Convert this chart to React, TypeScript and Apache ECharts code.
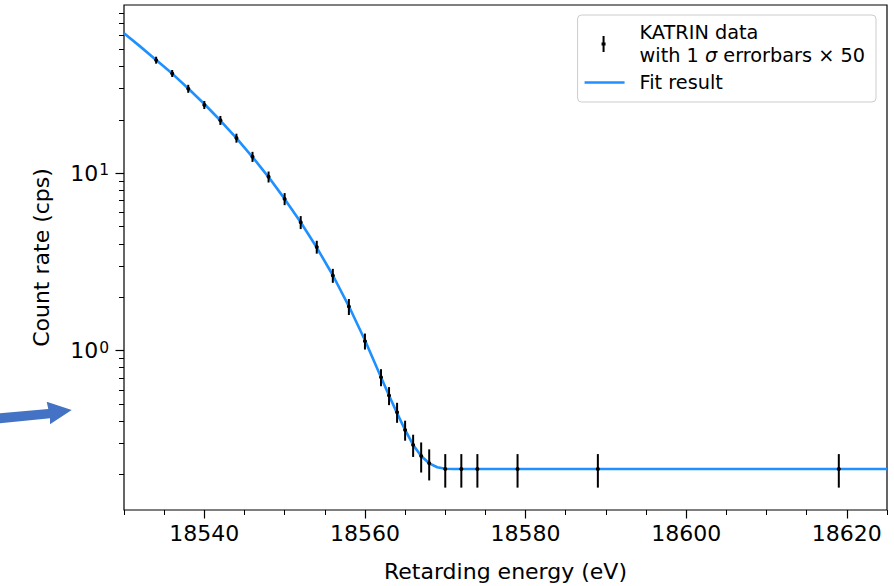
import React, { useEffect, useRef } from 'react';
import * as echarts from 'echarts';

const energy = [18534, 18536, 18538, 18540, 18542, 18544, 18546, 18548, 18550, 18552, 18554, 18556, 18558, 18560, 18562, 18563, 18564, 18565, 18566, 18567, 18568, 18570, 18572, 18574, 18579, 18589, 18619];
const rate = [43.5, 36.6, 30.0, 24.3, 19.9, 15.8, 12.4, 9.55, 7.17, 5.29, 3.84, 2.65, 1.77, 1.13, 0.707, 0.557, 0.449, 0.356, 0.293, 0.254, 0.231, 0.2145, 0.2145, 0.2145, 0.2145, 0.2145, 0.2145];
const errorX50 = [1.97, 1.66, 1.56, 1.26, 1.16, 0.92, 0.81, 0.68, 0.56, 0.445, 0.32, 0.24, 0.184, 0.117, 0.078, 0.065, 0.058, 0.046, 0.042, 0.049, 0.046, 0.046, 0.046, 0.046, 0.046, 0.046, 0.046];

// Fit curve
const fitEnergy = [18530, 18532, 18534, 18536, 18538, 18540, 18542, 18544, 18546, 18548, 18550, 18552, 18554, 18556, 18558, 18560, 18562, 18563, 18564, 18565, 18566, 18567, 18568, 18569, 18570, 18571, 18625];
const fitRate = [61.6, 52.0, 43.6, 36.5, 30.1, 24.6, 19.85, 15.77, 12.35, 9.52, 7.17, 5.29, 3.81, 2.66, 1.777, 1.142, 0.707, 0.558, 0.4435, 0.3565, 0.2933, 0.2541, 0.2311, 0.2195, 0.2155, 0.2145, 0.2145];

// Axis ticks
const xMajorTicks = [18540, 18560, 18580, 18600, 18620];
const xMinorTicks = [18530, 18535, 18545, 18550, 18555, 18565, 18570, 18575, 18585, 18590, 18595, 18605, 18610, 18615, 18625];
const yMajorTicks = [1, 10];
const yMinorTicks = [0.2, 0.3, 0.4, 0.5, 0.6, 0.7, 0.8, 0.9, 2, 3, 4, 5, 6, 7, 8, 9, 20, 30, 40, 50, 60, 70, 80];

const X_MIN = 18530;
const X_MAX = 18625;
const Y_MIN = 0.126;
const Y_MAX = 89;

const DATA_NAME = 'KATRIN data\nwith 1 σ errorbars × 50';
const FIT_NAME = 'Fit result';
const FONT = 'DejaVu Sans';
const BLUE = '#1E90FF';

export default function App() {
  const ref = useRef<HTMLDivElement>(null);
  useEffect(() => {
    document.body.style.margin = '0';
    const chart = echarts.init(ref.current as HTMLDivElement, null, { renderer: 'svg' });
    const errData = energy.map((e, i) => [e, rate[i], errorX50[i]]);
    const fitData = fitEnergy.map((e, i) => [e, fitRate[i]]);

    const option: any = {
      animation: false,
      backgroundColor: '#ffffff',
      textStyle: { fontFamily: FONT },
      grid: {
        left: 124, right: 7, top: 5, bottom: 76,
        show: true, borderColor: '#000', borderWidth: 1.2, backgroundColor: 'transparent',
        containLabel: false, outerBoundsMode: 'none',
      },
      xAxis: [
        {
          type: 'value', min: X_MIN, max: X_MAX, position: 'bottom',
          name: 'Retarding energy (eV)', nameLocation: 'middle', nameGap: 50,
          nameTextStyle: { fontFamily: FONT, fontSize: 22, color: '#000' },
          axisLine: { show: false },
          splitLine: { show: false },
          axisTick: { show: true, customValues: xMajorTicks, length: 8.5, lineStyle: { color: '#000', width: 1.2 } },
          axisLabel: { customValues: xMajorTicks, margin: 12, fontFamily: FONT, fontSize: 22, color: '#000', formatter: (v: number) => String(v) },
        },
        {
          type: 'value', min: X_MIN, max: X_MAX, position: 'bottom',
          axisLine: { show: false }, splitLine: { show: false },
          axisTick: { show: true, customValues: xMinorTicks, length: 5, lineStyle: { color: '#000', width: 1 } },
          axisLabel: { show: false },
        },
      ],
      yAxis: [
        {
          type: 'log', logBase: 10, min: Y_MIN, max: Y_MAX, position: 'left',
          name: 'Count rate (cps)', nameLocation: 'middle', nameGap: 72,
          nameTextStyle: { fontFamily: FONT, fontSize: 22, color: '#000' },
          axisLine: { show: false }, splitLine: { show: false }, minorTick: { show: false },
          axisTick: { show: true, customValues: yMajorTicks, length: 8.5, lineStyle: { color: '#000', width: 1.2 } },
          axisLabel: {
            customValues: yMajorTicks, margin: 15, color: '#000',
            formatter: (v: number) => `{b|10}{s|${Math.round(Math.log10(v))}}`,
            rich: {
              b: { fontFamily: FONT, fontSize: 22, color: '#000' },
              s: { fontFamily: FONT, fontSize: 15.5, color: '#000', verticalAlign: 'top', padding: [0, 0, 0, 1] },
            },
          },
        },
        {
          type: 'log', logBase: 10, min: Y_MIN, max: Y_MAX, position: 'left',
          axisLine: { show: false }, splitLine: { show: false }, minorTick: { show: false },
          axisTick: { show: true, customValues: yMinorTicks, length: 5, lineStyle: { color: '#000', width: 1 } },
          axisLabel: { show: false },
        },
      ],
      legend: {
        orient: 'vertical', right: 18, top: 15,
        padding: [8, 11, 10, 7], itemGap: 8,
        backgroundColor: 'rgba(255,255,255,0.8)', borderColor: '#cccccc', borderWidth: 1, borderRadius: 4,
        itemWidth: 50, itemHeight: 18,
        selectedMode: false,
        data: [
          { name: DATA_NAME, icon: 'path://M0,0M50,18M18,1h2v16h-2zM17,7.5h4v3h-4z' },
          { name: FIT_NAME, icon: 'path://M0,0M50,18M0,7.75h40v2.5h-40z' },
        ],
        formatter: (name: string) =>
          name === DATA_NAME ? '{t|KATRIN data}\n{t|with 1 }{i|σ}{t| errorbars × 50}' : '{t|Fit result}',
        textStyle: {
          color: '#000', fontFamily: FONT, fontSize: 19.3,
          rich: {
            t: { fontFamily: FONT, fontSize: 19.3, lineHeight: 23, color: '#000' },
            i: { fontFamily: FONT, fontSize: 19.3, lineHeight: 23, fontStyle: 'italic', color: '#000' },
          },
        },
      },
      series: [
        {
          name: FIT_NAME, type: 'line', xAxisIndex: 0, yAxisIndex: 0,
          data: fitData, showSymbol: false, smooth: false,
          color: BLUE, lineStyle: { color: BLUE, width: 2.6, join: 'round' }, itemStyle: { color: BLUE },
          z: 2, clip: true,
        },
        {
          name: DATA_NAME, type: 'custom', xAxisIndex: 0, yAxisIndex: 0,
          data: errData, itemStyle: { color: '#000' }, z: 3, clip: true,
          renderItem: (params: any, api: any) => {
            const x = api.value(0);
            const y = api.value(1);
            const e = api.value(2);
            const top = api.coord([x, y + e]);
            const bot = api.coord([x, y - e]);
            const c = api.coord([x, y]);
            return {
              type: 'group',
              children: [
                { type: 'line', shape: { x1: top[0], y1: top[1], x2: bot[0], y2: bot[1] }, style: { stroke: '#000', lineWidth: 2 } },
                { type: 'circle', shape: { cx: c[0], cy: c[1], r: 2 }, style: { fill: '#000' } },
              ],
            };
          },
        },
      ],
      graphic: [
        {
          type: 'polygon',
          shape: { points: [[0, 413.3], [48.3, 409], [46.7, 401.7], [71.7, 410], [50, 424.3], [50, 418.3], [0, 423.3]] },
          style: { fill: '#4472C4' },
        },
      ],
    };
    chart.setOption(option);
    return () => chart.dispose();
  }, []);
  return <div ref={ref} style={{ width: 894, height: 586 }} />;
}
